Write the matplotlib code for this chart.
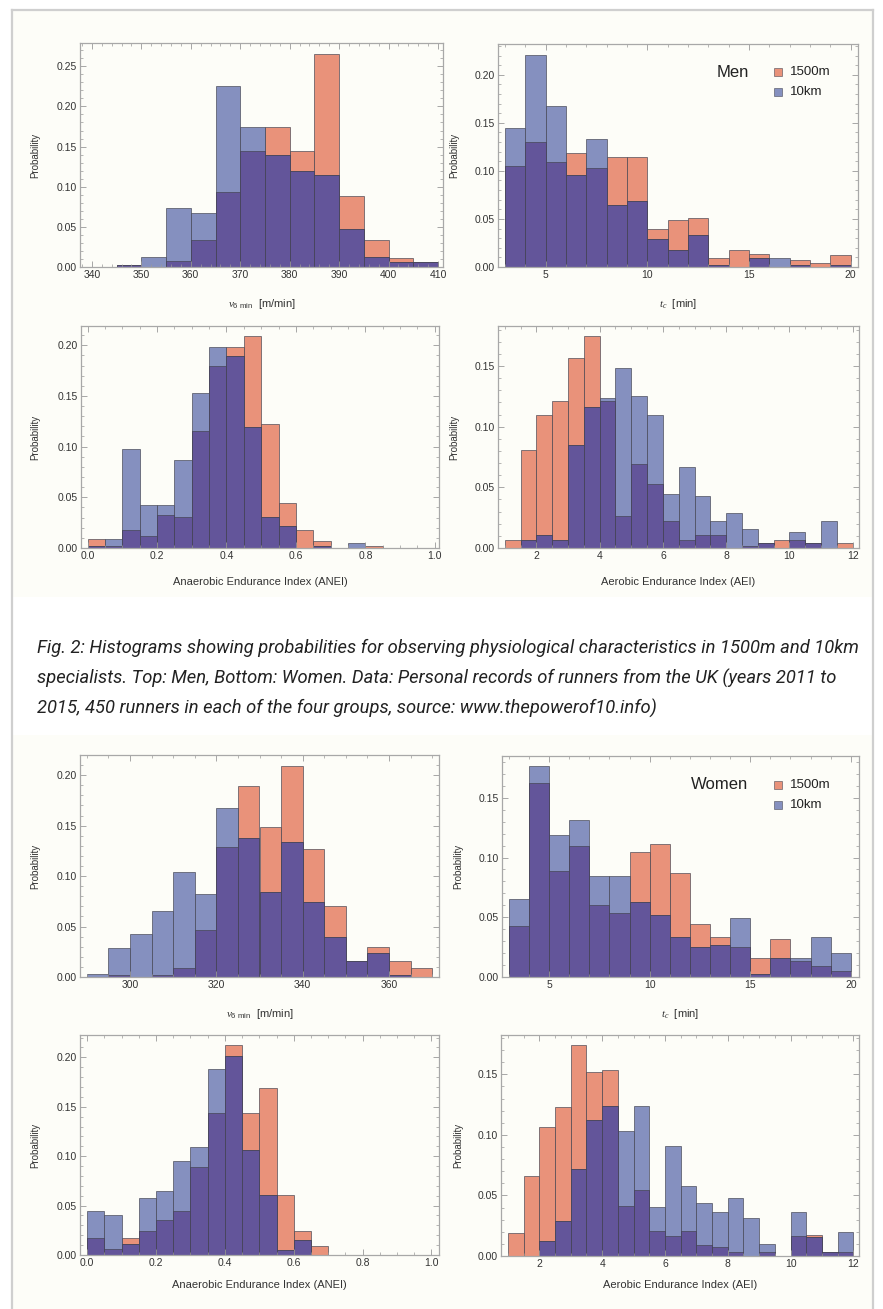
import matplotlib
matplotlib.use('Agg')
import matplotlib.pyplot as plt
import numpy as np
from matplotlib.patches import Rectangle
from matplotlib.lines import Line2D
from matplotlib.ticker import MultipleLocator, AutoMinorLocator, FormatStrFormatter

plt.rcParams['font.family'] = ['Liberation Sans', 'DejaVu Sans']
plt.rcParams['mathtext.fontset'] = 'custom'
plt.rcParams['mathtext.rm'] = 'Liberation Sans'
plt.rcParams['mathtext.it'] = 'Liberation Serif:italic'

ORANGE = '#E9927A'
BLUE = '#8590BF'
DARK = '#63559A'
EDGE = (0.25, 0.25, 0.3, 0.75)
FRAME = '#A8A8A8'
CREAM = '#FDFDF8'

# ---- data: probabilities per bin (1500m, 10km) ----
# Men, v6min, bins of 5 m/min starting at 345
men_v6_start, men_v6_width = 345, 5
men_v6_1500 = [0.0025, 0.0, 0.0075, 0.034, 0.093, 0.145, 0.174, 0.145, 0.265, 0.089, 0.034, 0.011, 0.0066]
men_v6_10k = [0.0025, 0.012, 0.074, 0.067, 0.225, 0.174, 0.140, 0.120, 0.115, 0.047, 0.013, 0.006, 0.0066]

# Men, tc, bins of 1 min starting at 3
men_tc_start, men_tc_width = 3, 1
men_tc_1500 = [0.105, 0.130, 0.109, 0.119, 0.103, 0.114, 0.114, 0.040, 0.049, 0.051, 0.009, 0.018, 0.0135, 0.0, 0.007, 0.0045, 0.013]
men_tc_10k = [0.145, 0.221, 0.168, 0.096, 0.133, 0.065, 0.069, 0.029, 0.018, 0.033, 0.002, 0.0, 0.009, 0.009, 0.002, 0.0, 0.002]

# Men, ANEI, bins of 0.05 starting at 0
men_anei_start, men_anei_width = 0.0, 0.05
men_anei_1500 = [0.009, 0.002, 0.018, 0.0115, 0.033, 0.031, 0.115, 0.180, 0.198, 0.209, 0.122, 0.044, 0.018, 0.007, 0.0, 0.0, 0.0023]
men_anei_10k = [0.002, 0.009, 0.098, 0.042, 0.042, 0.0865, 0.153, 0.198, 0.189, 0.119, 0.031, 0.022, 0.0, 0.002, 0.0, 0.0046, 0.0]

# Men, AEI, bins of 0.5 starting at 1
men_aei_start, men_aei_width = 1.0, 0.5
men_aei_1500 = [0.0063, 0.081, 0.110, 0.121, 0.157, 0.175, 0.121, 0.0266, 0.069, 0.053, 0.022, 0.0063,
                0.011, 0.011, 0.0, 0.002, 0.004, 0.0063, 0.0063, 0.004, 0.0, 0.004]
men_aei_10k = [0.0, 0.0063, 0.011, 0.0063, 0.085, 0.1165, 0.1234, 0.148, 0.125, 0.1096, 0.0448, 0.067,
               0.0426, 0.022, 0.029, 0.0157, 0.004, 0.0, 0.0129, 0.004, 0.022, 0.0]

# Women, v6min, bins of 5 starting at 290
women_v6_start, women_v6_width = 290, 5
women_v6_1500 = [0.0, 0.0017, 0.0, 0.0023, 0.0093, 0.0466, 0.1286, 0.1894, 0.1488, 0.209, 0.1266, 0.0704,
                 0.0159, 0.0294, 0.0159, 0.0093]
women_v6_10k = [0.0026, 0.029, 0.0426, 0.065, 0.1045, 0.0826, 0.167, 0.1378, 0.0846, 0.1336, 0.0747, 0.040,
                0.0159, 0.0238, 0.0023, 0.0]

# Women, tc
women_tc_start, women_tc_width = 3, 1
women_tc_1500 = [0.0425, 0.1628, 0.0891, 0.1095, 0.0606, 0.0539, 0.105, 0.1115, 0.0872, 0.0444, 0.0335,
                 0.0249, 0.0159, 0.0316, 0.0137, 0.0095, 0.005]
women_tc_10k = [0.0651, 0.1768, 0.119, 0.1318, 0.0849, 0.0849, 0.0626, 0.0517, 0.0335, 0.0249, 0.0271,
                0.0492, 0.0028, 0.0156, 0.0162, 0.0335, 0.0204]

# Women, ANEI
women_anei_start, women_anei_width = 0.0, 0.05
women_anei_1500 = [0.0175, 0.0064, 0.0175, 0.0246, 0.0357, 0.0444, 0.0886, 0.1441, 0.2125, 0.1441, 0.1687,
                   0.0603, 0.0242, 0.0088]
women_anei_10k = [0.0444, 0.040, 0.0111, 0.0579, 0.0643, 0.0953, 0.109, 0.1882, 0.2017, 0.1064, 0.0603,
                  0.0047, 0.0155, 0.0]

# Women, AEI
women_aei_start, women_aei_width = 1.0, 0.5
women_aei_1500 = [0.0187, 0.066, 0.1065, 0.1227, 0.1742, 0.1519, 0.154, 0.0416, 0.0545, 0.0206, 0.0165,
                  0.0206, 0.0094, 0.0072, 0.0033, 0.0, 0.0033, 0.0, 0.0165, 0.0176, 0.0033, 0.0033]
women_aei_10k = [0.0, 0.0, 0.0127, 0.0289, 0.0716, 0.112, 0.1238, 0.1029, 0.1238, 0.0407, 0.0908, 0.0581,
                 0.0435, 0.036, 0.0479, 0.0314, 0.0102, 0.0, 0.036, 0.016, 0.0033, 0.0198]

caption = ["Fig. 2: Histograms showing probabilities for observing physiological characteristics in 1500m and 10km",
           "specialists. Top: Men, Bottom: Women. Data: Personal records of runners from the UK (years 2011 to",
           "2015, 450 runners in each of the four groups, source: www.thepowerof10.info)"]

V6_LABEL = r'$v_{6\ \mathrm{min}}$  [m/min]'
TC_LABEL = r'$t_c$  [min]'
ANEI_LABEL = 'Anaerobic Endurance Index (ANEI)'
AEI_LABEL = 'Aerobic Endurance Index (AEI)'

W, H = 883, 1309
fig = plt.figure(figsize=(W / 100, H / 100), dpi=100)
fig.patch.set_facecolor('white')

# page background boxes + frame
for y0, y1 in [(10, 597), (735, 1309)]:
    fig.add_artist(Rectangle((12 / W, 1 - y1 / H), (873 - 12) / W, (y1 - y0) / H,
                             transform=fig.transFigure, facecolor=CREAM, edgecolor='none', zorder=0))
fig.add_artist(Line2D([12 / W, 12 / W], [0, 1 - 10 / H], transform=fig.transFigure, color='#CFCFCF', lw=1.6))
fig.add_artist(Line2D([873 / W, 873 / W], [0, 1 - 10 / H], transform=fig.transFigure, color='#CFCFCF', lw=1.6))
fig.add_artist(Line2D([12 / W, 873 / W], [1 - 10 / H, 1 - 10 / H], transform=fig.transFigure, color='#CFCFCF', lw=1.6))


def draw_hist(box, start, width, a, b, xlim, ylim, xmaj, xfmt, xlabel, xlab_y, ylab_x):
    left, top, right, bottom = box
    ax = fig.add_axes([left / W, 1 - bottom / H, (right - left) / W, (bottom - top) / H])
    ax.set_facecolor('none')
    a = np.array(a)
    b = np.array(b)
    x = start + width * np.arange(len(a))
    kw = dict(width=width, align='edge', edgecolor=EDGE, linewidth=0.6)
    ax.bar(x, a, color=ORANGE, **kw)
    ax.bar(x, b, color=BLUE, **kw)
    ax.bar(x, np.minimum(a, b), color=DARK, **kw)
    ax.set_xlim(*xlim)
    ax.set_ylim(*ylim)
    ax.xaxis.set_major_locator(MultipleLocator(xmaj))
    ax.xaxis.set_major_formatter(FormatStrFormatter(xfmt))
    ax.xaxis.set_minor_locator(AutoMinorLocator())
    ax.yaxis.set_major_locator(MultipleLocator(0.05))
    ax.yaxis.set_major_formatter(FormatStrFormatter('%.2f'))
    ax.yaxis.set_minor_locator(MultipleLocator(0.01))
    ax.tick_params(which='both', direction='in', top=True, right=True, color='#999999',
                   labelsize=7.5, labelcolor='#333333', pad=2)
    ax.tick_params(which='major', length=4, width=0.6)
    ax.tick_params(which='minor', length=2, width=0.5)
    for s in ax.spines.values():
        s.set_color(FRAME)
        s.set_linewidth(0.9)
    ax.set_xlabel(xlabel, fontsize=8, color='#333333')
    ax.set_ylabel('Probability', fontsize=7, color='#333333')
    ax.xaxis.set_label_coords(0.5, (bottom - xlab_y) / (bottom - top))
    ax.yaxis.set_label_coords((ylab_x - left) / (right - left), 0.5)
    return ax


def add_legend(ax, title, tx, xs, y1, y2):
    ax.text(tx, y1, title, transform=ax.transAxes, fontsize=12, ha='center', va='center', color='#222222')
    for yy, col, lab in [(y1, ORANGE, '1500m'), (y2, BLUE, '10km')]:
        ax.add_patch(Rectangle((xs - 0.012, yy - 0.018), 0.024, 0.036, transform=ax.transAxes,
                               facecolor=col, edgecolor=EDGE, lw=0.5))
        ax.text(xs + 0.033, yy, lab, transform=ax.transAxes, fontsize=9.5, va='center', color='#222222')


draw_hist((80, 43, 443, 267), men_v6_start, men_v6_width, men_v6_1500, men_v6_10k,
          (337.6, 411), (0, 0.279), 10, '%d', V6_LABEL, 297, 40)
ax2 = draw_hist((498, 44, 858, 267), men_tc_start, men_tc_width, men_tc_1500, men_tc_10k,
                (2.65, 20.36), (0, 0.232), 5, '%d', TC_LABEL, 297, 459)
add_legend(ax2, 'Men', 0.653, 0.778, 0.874, 0.785)
draw_hist((81, 326, 439, 548), men_anei_start, men_anei_width, men_anei_1500, men_anei_10k,
          (-0.019, 1.012), (0, 0.219), 0.2, '%.1f', ANEI_LABEL, 577, 40)
draw_hist((498, 326, 859, 548), men_aei_start, men_aei_width, men_aei_1500, men_aei_10k,
          (0.787, 12.2), (0, 0.183), 2, '%d', AEI_LABEL, 577, 459)

draw_hist((80, 755, 439, 977), women_v6_start, women_v6_width, women_v6_1500, women_v6_10k,
          (288.4, 371.6), (0, 0.22), 20, '%d', V6_LABEL, 1007, 40)
ax6 = draw_hist((502, 756, 859, 977), women_tc_start, women_tc_width, women_tc_1500, women_tc_10k,
                (2.66, 20.41), (0, 0.185), 5, '%d', TC_LABEL, 1007, 463)
add_legend(ax6, 'Women', 0.61, 0.773, 0.869, 0.778)
draw_hist((80, 1035, 439, 1255), women_anei_start, women_anei_width, women_anei_1500, women_anei_10k,
          (-0.021, 1.022), (0, 0.2226), 0.2, '%.1f', ANEI_LABEL, 1280, 40)
draw_hist((501, 1035, 859, 1256), women_aei_start, women_aei_width, women_aei_1500, women_aei_10k,
          (0.779, 12.18), (0, 0.1825), 2, '%d', AEI_LABEL, 1280, 463)

# caption: size the font so the first line spans the same width as in the page
cap_texts = []
for i, line in enumerate(caption):
    t = fig.text(37 / W, 1 - (648 + 30 * i) / H, line, fontsize=13, style='italic',
                 family=['Roboto', 'DejaVu Sans'], color='#222222', va='center', ha='left')
    cap_texts.append(t)
renderer = fig.canvas.get_renderer()
w0 = cap_texts[0].get_window_extent(renderer).width
size = 13 * (853 - 37) / w0
for t in cap_texts:
    t.set_fontsize(size)

plt.savefig('out.png', dpi=100, facecolor=fig.get_facecolor())
plt.close()
